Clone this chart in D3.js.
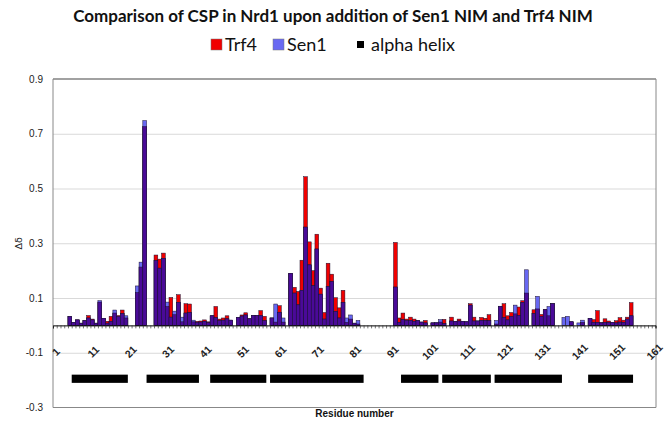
<!DOCTYPE html>
<html><head><meta charset="utf-8">
<script src="https://cdn.jsdelivr.net/npm/d3@7"></script>
<style>body{margin:0;background:#fff}svg{display:block}</style>
</head><body><svg id="c" width="664" height="422"></svg>
<script>
// ---- data ----
const residues = d3.range(1, 162);
const trf4 = [
  0,0,0,0,0.032,0.011,0.02,0.008,0.017,0.036,
  0.023,0.008,0.085,0.026,0.015,0.033,0.045,0.036,0.056,0.027,
  0,0,0.12,0.213,0.726,0,0,0.257,0.242,0.264,
  0.069,0.102,0.039,0.112,0.013,0.079,0.078,0.013,0.015,0.016,
  0.02,0.013,0.035,0.069,0.023,0.027,0.035,0.019,0,0.029,
  0.038,0.046,0.024,0.036,0.036,0.054,0.033,0,0.027,0.012,
  0.072,0.012,0,0.19,0.139,0.124,0.238,0.543,0.305,0.2,
  0.333,0.136,0.047,0.227,0.187,0.101,0.064,0.128,0.011,0.023,
  0.008,0.005,0,0,0,0,0,0,0,0,
  0,0.303,0.027,0.045,0.023,0.03,0.023,0.017,0.012,0.018,
  0,0.009,0.009,0.012,0.022,0,0.03,0.015,0.023,0.015,
  0.013,0.079,0.03,0.016,0.029,0.026,0.039,0,0.005,0.069,
  0.079,0.035,0.047,0.042,0.067,0.09,0.118,0,0.057,0.06,
  0.04,0.058,0.035,0.079,0,0,0,0,0.013,0,
  0,0.011,0,0.026,0.021,0.054,0.01,0.024,0.016,0.011,
  0.017,0.028,0.019,0.03,0.083,0,0,0,0,0,
  0
];
const sen1 = [
  0,0,0,0,0.032,0.011,0.02,0.008,0.017,0.027,
  0.02,0.008,0.09,0.026,0.008,0.015,0.056,0.032,0.043,0.035,
  0,0,0.144,0.231,0.748,0,0,0.237,0.209,0.245,
  0.085,0.03,0.052,0.084,0.03,0.045,0.047,0.019,0.011,0.012,
  0.015,0.01,0.035,0.028,0.017,0.019,0.024,0.019,0,0.029,
  0.034,0.038,0.024,0.036,0.036,0.036,0.017,0,0.027,0.078,
  0.048,0.027,0,0.19,0.118,0.075,0.128,0.359,0.221,0.145,
  0.279,0.114,0.023,0.142,0.16,0.051,0.027,0.084,0.027,0.038,
  0.008,0.018,0,0,0,0,0,0,0,0,
  0,0.14,0.011,0.021,0.018,0.018,0.015,0.017,0.012,0.009,
  0,0.009,0.011,0.021,0.006,0,0.016,0.015,0.016,0.015,
  0.013,0.074,0.016,0.016,0.018,0.018,0.017,0,0.018,0.07,
  0.029,0.02,0.032,0.074,0.036,0.084,0.203,0,0.043,0.106,
  0.033,0.057,0.069,0.079,0,0,0.029,0.033,0.013,0,
  0.009,0.019,0,0.026,0.011,0.011,0.009,0.011,0.011,0.011,
  0.009,0.012,0.011,0.023,0.035,0,0,0,0,0,
  0
];
const helices = [[6,20],[26,39],[43,57],[59,83],[94,103],[105,117],[119,136],[144,155]];
const helixLevel = -0.195;
const yTicks = [-0.3,-0.1,0.1,0.3,0.5,0.7,0.9];
const xLabels = [1,11,21,31,41,51,61,71,81,91,101,111,121,131,141,151,161];
const titleText = "Comparison of CSP in Nrd1 upon addition of Sen1 NIM and Trf4 NIM";
const legendItems = [
  {name:"Trf4", color:"#f00000"},
  {name:"Sen1", color:"#6868f2"},
  {name:"alpha helix", color:"#000000"}
];

// ---- chart ----
const svg = d3.select("#c");
const L = 53, R = 656, T = 79, B = 407.5;
const x = d3.scaleLinear().domain([0.5, 161.5]).range([L, 655.5]);
const y = d3.scaleLinear().domain([-0.3, 0.9]).range([B, T]);
const bw = x(1.5) - x(0.5);

// gridlines
svg.append("g").attr("transform", `translate(${L},0)`)
  .call(d3.axisLeft(y).tickValues([-0.1,0.1,0.3,0.5,0.7]).tickSize(-(R - L)).tickFormat(""))
  .call(g => g.select(".domain").remove())
  .call(g => g.selectAll("line").attr("stroke", "#d9d9d9").attr("stroke-width", 1));

// frame
svg.append("line").attr("x1", L).attr("x2", R).attr("y1", T).attr("y2", T).attr("stroke", "#444").attr("stroke-width", 1.2);
svg.append("line").attr("x1", R).attr("x2", R).attr("y1", T).attr("y2", B).attr("stroke", "#888");
svg.append("line").attr("x1", L).attr("x2", R).attr("y1", B).attr("y2", B).attr("stroke", "#888");
svg.append("line").attr("x1", L).attr("x2", L).attr("y1", T).attr("y2", B).attr("stroke", "#888");

// y labels
svg.append("g").attr("transform", `translate(${L},0)`)
  .call(d3.axisLeft(y).tickValues(yTicks).tickSize(0).tickPadding(10).tickFormat(d => d.toFixed(1)))
  .call(g => g.select(".domain").remove())
  .call(g => g.selectAll("text").attr("font-family", "Liberation Sans, Arial, sans-serif").attr("font-size", 10).attr("fill", "#222"));

// bars
const data = residues.map((r, i) => ({r, t: trf4[i], s: sen1[i], m: Math.min(trf4[i], sen1[i])}));
const bars = svg.append("g").attr("stroke", "#1a1030").attr("stroke-width", 0.5);
function layer(key, color) {
  bars.append("g").selectAll("rect").data(data.filter(d => d[key] > 0)).join("rect")
    .attr("x", d => x(d.r - 0.5)).attr("width", bw)
    .attr("y", d => y(d[key])).attr("height", d => y(0) - y(d[key]))
    .attr("fill", color);
}
layer("t", "#f00000");
layer("s", "#6868f2");
layer("m", "#4a0a98");

// baseline axis with category ticks
svg.append("g").attr("transform", `translate(0,${y(0)})`)
  .call(d3.axisBottom(x).tickValues(d3.range(0.5, 162, 1)).tickSize(3).tickFormat(""))
  .call(g => g.select(".domain").attr("stroke", "#000").attr("stroke-width", 1))
  .call(g => g.selectAll(".tick line").attr("stroke", "#333").attr("stroke-width", 0.7));

// x labels
svg.append("g").selectAll("text").data(xLabels).join("text")
  .attr("transform", d => `translate(${x(d) + 1},${y(-0.1) - 1}) rotate(-45)`)
  .attr("text-anchor", "middle").attr("dy", "0.35em")
  .attr("font-family", "Liberation Sans, Arial, sans-serif").attr("font-size", 10.5).attr("font-weight", "bold")
  .attr("fill", "#222").text(d => d);

// helices
svg.append("g").selectAll("rect").data(helices).join("rect")
  .attr("x", d => x(d[0] - 0.5)).attr("width", d => x(d[1] + 0.5) - x(d[0] - 0.5))
  .attr("y", y(helixLevel + 0.015)).attr("height", y(helixLevel - 0.015) - y(helixLevel + 0.015))
  .attr("fill", "#000");

// axis titles
svg.append("text").attr("transform", `translate(22,${y(0.3)}) rotate(-90)`)
  .attr("text-anchor", "middle").attr("font-family", "DejaVu Sans, sans-serif").attr("font-size", 9.5).attr("fill", "#222").text("Δδ");
svg.append("text").attr("x", (L + R) / 2).attr("y", 417)
  .attr("text-anchor", "middle").attr("font-family", "Liberation Sans, Arial, sans-serif").attr("font-size", 10).attr("font-weight", "bold").attr("fill", "#111").text("Residue number");

// title
svg.append("text").attr("x", 333).attr("y", 22).attr("text-anchor", "middle")
  .attr("font-family", "Lato, sans-serif").attr("font-weight", "bold").attr("font-size", 17).attr("fill", "#111").text(titleText);

// legend
const lg = svg.append("g").attr("font-family", "Lato, sans-serif").attr("font-size", 18).attr("fill", "#111");
const lx = [211, 273, 357];
legendItems.forEach((it, i) => {
  const sz = i === 2 ? 7 : 11;
  lg.append("rect").attr("x", lx[i]).attr("y", 50 - sz - (i === 2 ? 2 : 0)).attr("width", sz).attr("height", sz)
    .attr("fill", it.color).attr("stroke", i === 2 ? "none" : "#777").attr("stroke-width", 0.5);
  lg.append("text").attr("x", lx[i] + (i === 2 ? 14 : 14)).attr("y", 51).text(it.name);
});
</script></body></html>
